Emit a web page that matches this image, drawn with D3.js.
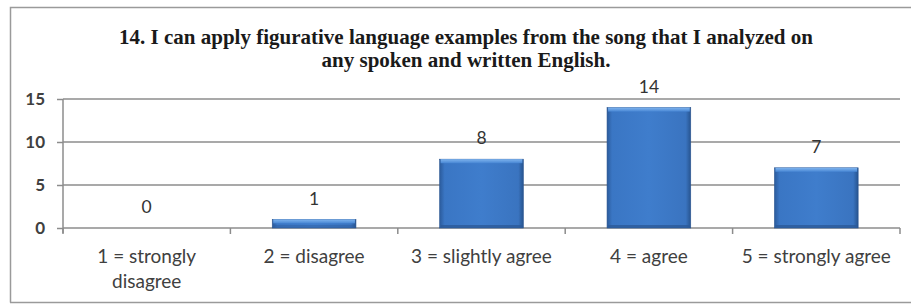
<!DOCTYPE html>
<html>
<head>
<meta charset="utf-8">
<script src="https://cdn.jsdelivr.net/npm/d3@7"></script>
<style>
 body { margin: 0; background: #fff; }
 svg { display: block; }
</style>
</head>
<body>
<div id="chart"></div>
<script>
// chart data
var categories = ['1 = strongly disagree', '2 = disagree', '3 = slightly agree', '4 = agree', '5 = strongly agree'];
var counts = [0, 1, 8, 14, 7];
var yTicks = [0, 5, 10, 15];
var titleLines = ['14. I can apply figurative language examples from the song that I analyzed on',
 'any spoken and written English.'];

var width = 911, height = 305;
var plot = {left: 63, right: 900, top: 99, bottom: 228};

var svg = d3.select('#chart').append('svg')
 .attr('width', width).attr('height', height);

// bar gradients (bevelled excel look)
var defs = svg.append('defs');
var hGrad = defs.append('linearGradient').attr('id', 'barH').attr('x1', 0).attr('x2', 1).attr('y1', 0).attr('y2', 0);
hGrad.append('stop').attr('offset', '0%').attr('stop-color', '#2b5b9c');
hGrad.append('stop').attr('offset', '6%').attr('stop-color', '#3a76c4');
hGrad.append('stop').attr('offset', '50%').attr('stop-color', '#3f7dcc');
hGrad.append('stop').attr('offset', '94%').attr('stop-color', '#3a74c0');
hGrad.append('stop').attr('offset', '100%').attr('stop-color', '#27548f');
var topGrad = defs.append('linearGradient').attr('id', 'barTop').attr('x1', 0).attr('x2', 0).attr('y1', 0).attr('y2', 1);
topGrad.append('stop').attr('offset', '0%').attr('stop-color', '#7fb4ee');
topGrad.append('stop').attr('offset', '100%').attr('stop-color', '#4786d4');

// outer frame
svg.append('path')
 .attr('d', 'M10.5,' + (height - 2.5) + 'V7.5H' + width)
 .attr('fill', 'none').attr('stroke', '#9a9a9a').attr('stroke-width', 1.5);
svg.append('line')
 .attr('x1', 10).attr('x2', width).attr('y1', height - 2.5).attr('y2', height - 2.5)
 .attr('stroke', '#9a9a9a').attr('stroke-width', 1.5);

// title
svg.append('text')
 .attr('x', 466).attr('y', 44)
 .attr('text-anchor', 'middle')
 .style('font-family', '"Liberation Serif", "Times New Roman", serif')
 .style('font-weight', 'bold').style('font-size', '21px').style('fill', '#1a1a1a')
 .selectAll('tspan').data(titleLines).enter().append('tspan')
 .attr('x', 466).attr('dy', function(d, i){ return i ? 23 : 0; })
 .text(function(d){ return d; });

var x = d3.scaleBand().domain(categories).range([plot.left, plot.right]).paddingInner(0.5).paddingOuter(0.25);
var y = d3.scaleLinear().domain([0, 15]).range([plot.bottom, plot.top]);

// gridlines
svg.append('g').selectAll('line').data(yTicks.filter(function(d){ return d > 0; })).enter().append('line')
 .attr('x1', plot.left).attr('x2', plot.right)
 .attr('y1', function(d){ return y(d); }).attr('y2', function(d){ return y(d); })
 .attr('stroke', '#8c8c8c').attr('stroke-width', 1.5);

// y axis
var yAxis = svg.append('g').attr('transform', 'translate(' + plot.left + ',0)')
 .call(d3.axisLeft(y).tickValues(yTicks).tickSize(6).tickPadding(12));
yAxis.select('.domain').attr('stroke', '#8c8c8c').attr('stroke-width', 1.5).attr('d', 'M0,' + plot.top + 'V' + (plot.bottom + 5));
yAxis.selectAll('.tick line').attr('stroke', '#8c8c8c').attr('stroke-width', 1.5);
yAxis.selectAll('.tick text')
 .style('font-family', 'Lato, "Open Sans", sans-serif').style('font-size', '17px')
 .style('font-weight', 'bold').style('fill', '#404040');

// x axis line and boundary ticks
var step = x.step();
var bounds = d3.range(categories.length + 1).map(function(i){ return plot.left + i * step; });
svg.append('line')
 .attr('x1', plot.left).attr('x2', plot.right).attr('y1', plot.bottom).attr('y2', plot.bottom)
 .attr('stroke', '#8c8c8c').attr('stroke-width', 1.5);
svg.append('g').selectAll('line').data(bounds).enter().append('line')
 .attr('x1', function(d){ return d; }).attr('x2', function(d){ return d; })
 .attr('y1', plot.bottom).attr('y2', plot.bottom + 6)
 .attr('stroke', '#8c8c8c').attr('stroke-width', 1.5);

// bars
var bars = svg.append('g').selectAll('g').data(counts).enter().append('g')
 .filter(function(d){ return d > 0; });
bars.append('rect')
 .attr('x', function(d, i){ return x(categories[counts.indexOf(d)]); })
 .attr('y', function(d){ return y(d); })
 .attr('width', x.bandwidth())
 .attr('height', function(d){ return y(0) - y(d); })
 .attr('fill', 'url(#barH)').attr('stroke', '#2a5590').attr('stroke-width', 0.6);
bars.append('rect')
 .attr('x', function(d){ return x(categories[counts.indexOf(d)]) + 1; })
 .attr('y', function(d){ return y(d); })
 .attr('width', x.bandwidth() - 2)
 .attr('height', function(d){ return Math.min(4, y(0) - y(d)); })
 .attr('fill', 'url(#barTop)');
bars.append('rect')
 .attr('x', function(d){ return x(categories[counts.indexOf(d)]) + 1; })
 .attr('y', function(d){ return y(0) - 3; })
 .attr('width', x.bandwidth() - 2)
 .attr('height', 3)
 .attr('fill', '#2c5a98').attr('opacity', function(d){ return d > 1 ? 0.8 : 0.4; });

// value labels
svg.append('g').selectAll('text').data(counts).enter().append('text')
 .attr('x', function(d, i){ return x(categories[i]) + x.bandwidth() / 2; })
 .attr('y', function(d){ return y(d) - 21; })
 .attr('dy', '0.35em')
 .attr('text-anchor', 'middle')
 .style('font-family', 'Lato, "Open Sans", sans-serif').style('font-size', '17.5px')
 .style('fill', '#333')
 .text(function(d){ return d; });

// category labels, wrapped like the original
var catLines = [['1 = strongly', 'disagree'], ['2 = disagree'], ['3 = slightly agree'], ['4 = agree'], ['5 = strongly agree']];
svg.append('g').selectAll('text').data(categories).enter().append('text')
 .attr('text-anchor', 'middle')
 .attr('y', 256)
 .style('font-family', 'Lato, "Open Sans", sans-serif').style('font-size', '19px')
 .style('fill', '#404040')
 .each(function(d, i){
  var cx = x(d) + x.bandwidth() / 2;
  d3.select(this).selectAll('tspan').data(catLines[i]).enter().append('tspan')
   .attr('x', cx).attr('dy', function(t, j){ return j ? 25 : '0.35em'; })
   .text(function(t){ return t; });
 });
</script>
</body>
</html>
